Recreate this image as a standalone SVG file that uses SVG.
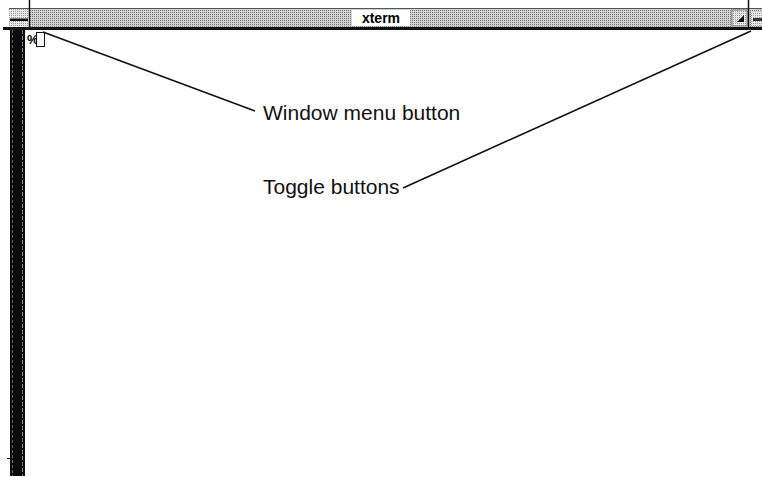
<svg xmlns="http://www.w3.org/2000/svg" width="762" height="477" viewBox="0 0 762 477">
<style>
.lbl{font-family:"Liberation Sans",Arial,Helvetica,sans-serif;font-size:21px;fill:#111}
.ttl{font-family:"Liberation Sans",Arial,Helvetica,sans-serif;font-size:14px;font-weight:bold;fill:#000}
.lead{stroke:#111;stroke-width:1.6;fill:none}
</style>
<defs>
<pattern id="stip" width="2" height="2" patternUnits="userSpaceOnUse">
<rect width="2" height="2" fill="#d0d0d0"/>
<rect x="0" y="0" width="1" height="1" fill="#7a7a7a"/>
</pattern>
<pattern id="stipL" width="2" height="2" patternUnits="userSpaceOnUse">
<rect width="2" height="2" fill="#e8e8e8"/>
<rect x="1" y="1" width="1" height="1" fill="#9a9a9a"/>
</pattern>
</defs>
<rect width="762" height="477" fill="#fff"/>

<g id="titlebar">
<rect x="9" y="8" width="753" height="20" fill="url(#stip)"/>
<line x1="9" y1="8.5" x2="762" y2="8.5" stroke="#555" stroke-width="1"/>
<rect x="3" y="27" width="759" height="3" fill="#111"/>
<rect x="352" y="10" width="58" height="16" fill="#fff"/>
<text class="ttl" x="381" y="23" text-anchor="middle">xterm</text>
</g>

<g id="window-menu-button">
<rect x="9" y="9" width="20" height="18" fill="url(#stipL)"/>
<rect x="10" y="18.5" width="18" height="2.5" fill="#111"/>
<line x1="29.5" y1="0" x2="29.5" y2="29" stroke="#111" stroke-width="1.5"/>
</g>

<g id="toggle-buttons">
<rect x="731" y="9" width="17" height="18" fill="url(#stipL)"/>
<rect x="732" y="10" width="15" height="16" fill="none" stroke="#777" stroke-width="1"/>
<polygon points="744,15 744,22 737,22" fill="#111"/>
<line x1="748.5" y1="0" x2="748.5" y2="29" stroke="#111" stroke-width="1.5"/>
<rect x="751" y="12" width="11" height="14" fill="url(#stipL)"/>
<rect x="753" y="18" width="9" height="3" fill="#333"/>
</g>

<g id="terminal">
<rect x="10" y="30" width="15" height="446" fill="#0a0a0a"/>
<line x1="12.5" y1="30" x2="12.5" y2="476" stroke="#666" stroke-width="1" stroke-dasharray="3,2"/>
<line x1="22.5" y1="30" x2="22.5" y2="476" stroke="#777" stroke-width="1" stroke-dasharray="4,2"/>
<line x1="7" y1="458.5" x2="10" y2="458.5" stroke="#111" stroke-width="1"/>
<text x="27" y="44" style="font-family:'Liberation Sans',Arial,sans-serif;font-size:13px;font-weight:bold" fill="#000">%</text>
<rect x="36.5" y="32.5" width="8" height="14" fill="#fff" stroke="#111" stroke-width="1"/>
</g>

<g id="label-window-menu">
<text class="lbl" x="263" y="120">Window menu button</text>
</g>
<g id="label-toggle">
<text class="lbl" x="263" y="194">Toggle buttons</text>
</g>

<g id="connectors">
<line class="lead" x1="43" y1="32" x2="255" y2="111"/>
<line class="lead" x1="751" y1="31" x2="403" y2="188"/>
</g>
</svg>
